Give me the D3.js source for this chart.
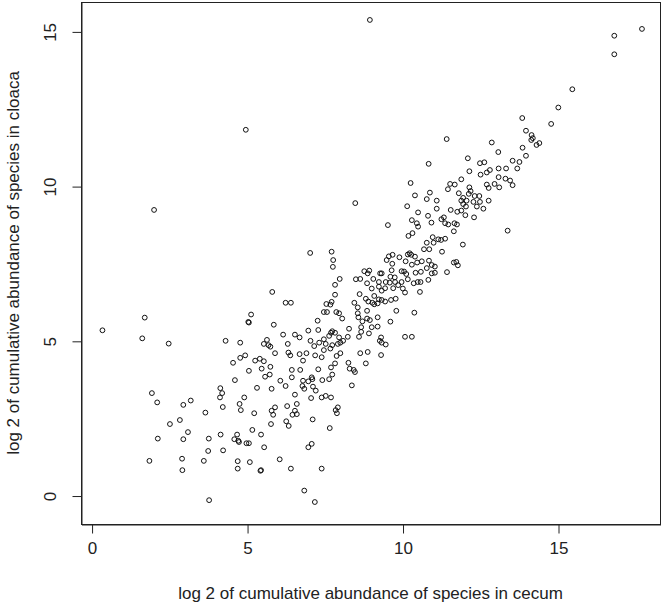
<!DOCTYPE html>
<html lang="en">
<head>
  <meta charset="UTF-8">
  <title>cecum vs cloaca</title>
  <script src="https://cdn.jsdelivr.net/npm/d3@7"></script>
  <style>
    body { margin: 0; background: #fff; }
    svg text { font-family: "Liberation Sans", Arial, Helvetica, sans-serif; fill: #222; }
    .dot { fill: none; stroke: #111; stroke-width: 1; }
  </style>
</head>
<body>
  <div id="chart"></div>
  <script>
    // log2 cumulative abundance per species
    const cecum = [
      0.35,1.71,1.63,2.48,4.31,1.94,2.11,4.14,4.20,4.13,3.19,2.95,4.22,3.66,2.84,2.52,3.10,2.13,2.95,3.77,4.15,3.75,4.23,1.86,2.91,2.92,3.61,3.78,
      2.01,4.96,8.48,9.53,7.03,7.72,7.77,7.76,7.98,8.77,8.93,8.88,9.28,9.33,9.56,9.68,9.49,9.67,9.65,9.61,9.75,9.90,8.64,8.50,9.06,
      10.46,10.50,10.93,10.32,10.19,10.78,10.97,11.15,11.24,11.00,11.27,10.86,10.69,10.17,10.23,10.28,10.40,10.10,10.30,10.47,10.62,10.85,10.94,11.04,
      9.97,10.05,10.12,10.42,10.59,10.78,10.94,11.04,8.86,9.24,9.46,9.59,9.76,9.86,9.97,10.17,10.36,10.49,10.58,10.83,7.83,9.44,9.33,9.24,9.01,9.70,
      10.01,10.08,10.56,8.62,8.82,9.09,9.24,9.33,9.44,9.63,9.78,8.45,8.56,8.90,9.03,9.09,9.20,7.96,8.06,7.87,8.56,8.58,8.86,8.86,8.95,8.71,8.67,
      9.20,9.61,9.80,10.38,8.28,9.01,9.20,
      4.76,4.80,5.23,5.79,5.90,5.84,5.77,6.29,6.60,6.54,6.46,6.60,6.26,6.34,7.11,7.66,5.17,5.45,4.68,4.59,4.72,4.74,4.98,5.06,5.55,6.97,7.08,
      4.70,4.70,5.09,6.05,5.43,5.45,6.41,7.40,6.84,7.18,
      5.81,6.24,6.41,5.13,5.04,5.06,5.86,4.78,5.64,5.54,5.69,5.75,5.90,6.16,6.31,6.54,6.69,6.97,7.04,7.16,7.29,7.27,7.47,7.57,7.55,7.68,7.72,7.83,
      7.32,7.47,7.53,7.64,7.70,7.74,6.33,4.55,4.78,4.94,5.26,5.41,5.54,6.39,6.69,6.80,6.91,7.19,7.40,7.47,7.68,7.74,5.06,5.47,5.75,5.73,5.58,
      6.44,6.71,6.44,6.07,6.24,7.08,7.10,6.80,6.97,6.78,6.84,7.12,7.42,7.64,7.74,7.29,7.70,4.61,5.32,5.79,6.54,7.21,4.91,7.06,7.40,7.53,7.70,
      7.83,7.96,8.09,8.24,7.92,8.00,8.67,8.60,8.92,9.31,9.27,9.33,9.46,10.08,10.30,7.88,8.00,7.83,8.64,8.88,9.31,8.26,8.82,8.30,8.43,8.47,8.37,
      7.92,7.85,7.89,
      11.37,11.47,11.67,11.75,11.65,11.37,13.38,11.94,11.65,11.73,11.78,11.43,
      13.85,13.97,11.42,12.87,13.08,13.86,13.97,10.84,12.10,12.49,12.63,12.15,12.81,12.71,12.51,13.09,13.33,13.54,13.76,13.69,13.09,13.31,13.46,
      13.54,12.96,13.11,12.71,12.77,11.89,11.68,11.53,11.46,10.88,10.78,11.10,11.10,10.82,11.81,12.15,12.19,12.13,12.32,12.47,11.95,12.06,11.89,
      11.95,12.04,11.89,12.28,12.49,12.39,12.77,12.60,11.55,11.76,12.02,12.30,11.25,11.33,
      15.46,15.01,14.78,14.15,14.19,14.14,14.31,14.40,
      16.81,16.81,17.70,8.95,
      10.26,10.40,10.15,10.50,10.30
    ];
    const cloaca = [
      5.34,5.75,5.08,4.91,5.00,3.31,3.01,3.47,3.31,3.17,3.07,2.93,2.86,2.68,2.44,2.31,2.05,1.84,1.82,1.84,1.97,1.44,1.46,1.12,1.19,0.82,1.12,-0.15,
      9.23,11.82,9.45,8.74,7.84,7.88,7.61,7.39,7.00,7.25,7.27,7.18,7.18,7.18,7.73,7.78,7.61,7.49,7.28,7.07,7.05,7.70,7.00,6.99,7.00,
      8.80,8.69,8.82,8.48,8.39,8.17,8.35,8.28,8.26,8.17,7.88,7.96,7.96,7.79,7.83,7.78,7.72,7.57,7.46,7.53,7.57,7.59,7.45,7.40,
      7.25,7.24,7.16,7.20,7.23,7.35,7.18,7.20,6.86,6.90,6.90,6.88,6.90,6.80,6.90,6.99,6.86,6.90,6.90,6.97,6.81,6.70,6.62,6.75,6.69,6.70,
      6.69,6.56,6.58,6.51,6.36,6.45,6.34,6.32,6.27,6.32,6.36,6.23,6.08,6.27,6.23,6.18,6.21,5.89,5.72,5.93,5.89,5.76,5.97,5.72,5.67,5.63,5.44,
      5.76,5.62,5.97,5.91,5.39,5.44,5.46,
      2.96,2.76,2.66,2.74,2.85,2.61,2.31,2.89,2.96,2.74,2.61,2.63,2.40,2.25,2.46,2.18,2.12,1.97,1.97,1.82,1.77,1.73,1.69,1.69,1.56,1.56,1.67,
      1.11,0.87,1.08,1.17,0.80,0.82,0.87,0.87,0.16,-0.21,
      6.58,6.23,6.23,5.85,5.61,5.59,5.52,4.94,5.03,4.90,4.86,4.81,4.60,5.20,4.90,5.20,5.11,5.33,5.00,4.83,5.35,5.65,5.93,5.93,6.19,6.17,6.26,6.49,
      4.94,5.05,4.90,5.16,5.26,5.31,4.62,4.29,4.45,4.53,4.36,4.42,4.34,4.53,4.57,4.36,4.60,4.53,4.47,4.70,4.75,4.86,4.03,4.10,4.16,3.91,3.84,
      4.06,4.06,3.82,3.71,3.54,3.82,3.76,3.71,3.69,3.54,3.45,3.52,3.73,3.76,3.91,4.08,4.14,3.73,3.48,3.45,3.26,3.39,3.17,3.15,3.17,3.22,3.17,
      5.26,5.11,5.00,5.13,4.90,4.94,5.29,5.13,5.24,5.11,5.00,4.94,4.88,5.13,5.13,4.51,4.60,4.27,4.60,4.64,4.54,4.29,4.27,4.10,4.06,3.99,3.56,
      2.85,2.76,2.66,
      8.80,8.76,8.80,8.76,8.54,8.30,8.56,8.11,7.53,7.55,7.44,7.22,
      12.20,11.79,11.52,11.41,11.10,11.24,10.98,10.72,10.90,10.74,10.77,10.48,10.52,10.44,10.37,10.57,10.57,10.82,10.78,10.57,10.29,10.24,10.18,
      10.03,10.07,9.96,10.05,9.94,10.22,10.05,10.07,9.90,9.79,9.58,9.53,9.27,9.04,9.77,9.96,9.84,9.75,9.68,9.68,9.62,9.53,9.53,
      9.42,9.34,9.21,9.49,9.49,9.34,9.53,9.27,9.23,9.17,9.06,8.99,8.93,8.99,
      13.13,12.54,12.01,11.65,11.55,11.49,11.33,11.39,
      14.86,14.26,15.08,15.37,
      10.10,9.70,9.35,9.15,8.90
    ];
    const xTicks = [0, 5, 10, 15];
    const yTicks = [0, 5, 10, 15];
    const xLabel = 'log 2 of cumulative abundance of species in cecum';
    const yLabel = 'log 2 of cumulative abundance of species in cloaca';

    const width = 666, height = 606;
    const box = { left: 81, right: 660, top: 2, bottom: 524 };
    const fontSize = 17;

    const svg = d3.select('#chart').append('svg')
      .attr('width', width)
      .attr('height', height);

    const x = d3.scaleLinear().domain([-0.34, 18.28]).range([box.left, box.right]);
    const y = d3.scaleLinear().domain([-0.92, 15.95]).range([box.bottom, box.top]);

    // plot frame
    svg.append('rect')
      .attr('x', box.left + 0.5).attr('y', box.top + 0.5)
      .attr('width', box.right - box.left).attr('height', box.bottom - box.top)
      .attr('fill', 'none').attr('stroke', '#222').attr('stroke-width', 1);

    // axes, R style: ticks outward, labels one line out
    const xAxis = svg.append('g')
      .attr('transform', `translate(0.5,${box.bottom + 0.5})`)
      .call(d3.axisBottom(x).tickValues(xTicks).tickSize(9).tickPadding(8).tickSizeOuter(0));
    const yAxis = svg.append('g')
      .attr('transform', `translate(${box.left + 0.5},0.5)`)
      .call(d3.axisLeft(y).tickValues(yTicks).tickSize(9).tickSizeOuter(0));

    [xAxis, yAxis].forEach(g => {
      g.select('.domain').attr('stroke', '#222');
      g.selectAll('.tick line').attr('stroke', '#222');
      g.selectAll('text').attr('font-size', fontSize).attr('font-family', null).attr('fill', '#222');
    });
    // R draws y tick labels parallel to the axis
    yAxis.selectAll('.tick text')
      .attr('x', null).attr('dy', null)
      .attr('text-anchor', 'middle')
      .attr('transform', 'translate(-26,0) rotate(-90)')
      .attr('y', 0);

    svg.append('text')
      .attr('x', (box.left + box.right) / 2).attr('y', 599)
      .attr('text-anchor', 'middle').attr('font-size', fontSize)
      .text(xLabel);
    svg.append('text')
      .attr('transform', `translate(19,${(box.top + box.bottom) / 2}) rotate(-90)`)
      .attr('text-anchor', 'middle').attr('font-size', fontSize)
      .text(yLabel);

    const pts = cecum.map((v, i) => [v, cloaca[i]]);
    svg.append('g')
      .selectAll('circle')
      .data(pts)
      .enter()
      .append('circle')
        .attr('class', 'dot')
        .attr('cx', d => x(d[0]))
        .attr('cy', d => y(d[1]))
        .attr('r', 2.4);
  </script>
</body>
</html>
